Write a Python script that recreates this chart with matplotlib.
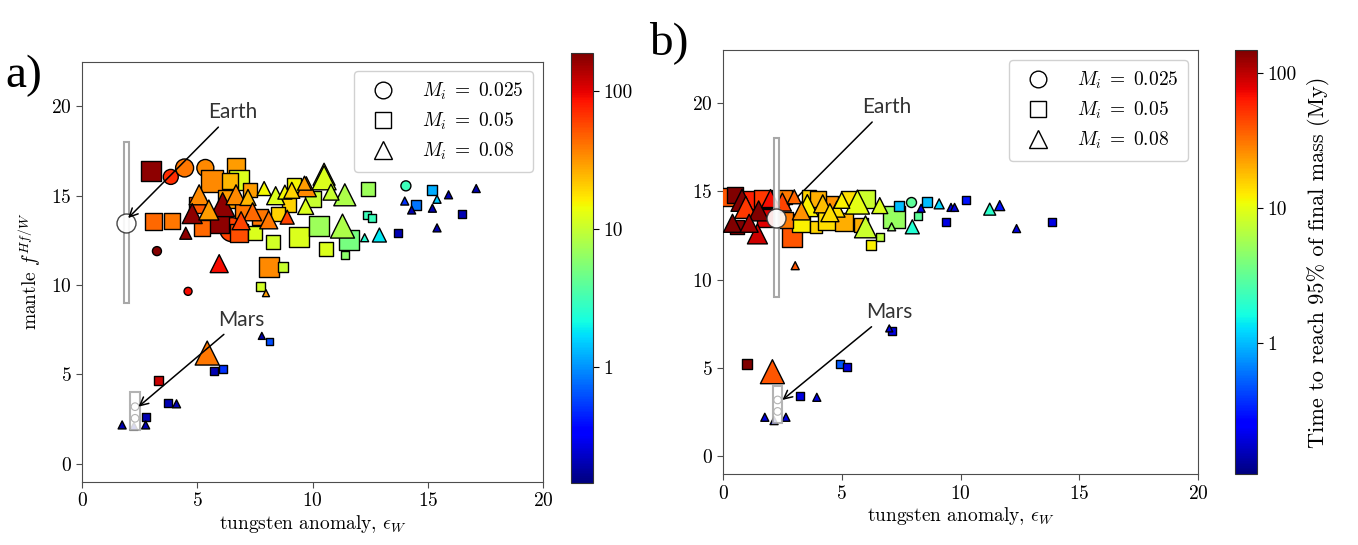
import matplotlib
matplotlib.use("Agg")
import matplotlib.pyplot as plt
from matplotlib.colors import LogNorm
from matplotlib.patches import Rectangle
from matplotlib.lines import Line2D
import matplotlib.ticker as mticker

plt.rcParams["font.family"] = "serif"
plt.rcParams["font.serif"] = ["cmr10"]
plt.rcParams["mathtext.fontset"] = "cm"
plt.rcParams["axes.formatter.use_mathtext"] = True

# ---------------- panel a) ----------------
# x: tungsten anomaly, y: mantle Hf/W, t: time to 95% mass (My), m: final mass (marker scale)
a_circ_x = [3.85, 4.45, 5.35, 6.5, 5.6, 3.25, 4.6, 14.05]
a_circ_y = [16.05, 16.55, 16.55, 13.1, 13.5, 11.9, 9.65, 15.55]
a_circ_t = [70, 40, 35, 60, 30, 180, 90, 3]
a_circ_m = [1.5, 1.8, 1.7, 2.4, 1.6, 0.9, 0.8, 1.0]

a_sq_x = [2.98, 3.12, 3.9, 5.65, 6.7, 6.8, 5.95, 5.2, 6.8, 7.3, 8.1, 8.7, 7.76, 8.27,
          9.43, 10.3, 7.7, 9.0, 10.0, 12.4, 12.35, 12.56, 11.6, 11.4, 13.7, 14.5,
          15.17, 16.5, 5.73, 6.13, 3.3, 3.75, 2.76, 8.13, 10.6, 9.2,
          6.3, 7.0, 5.0, 7.5, 8.5, 6.4]
a_sq_y = [16.4, 13.56, 13.56, 15.8, 16.6, 15.9, 13.5, 13.2, 12.9, 15.3, 11.0, 11.0, 9.9, 12.4,
          12.7, 13.3, 13.8, 14.5, 14.8, 15.4, 13.9, 13.75, 12.5, 11.7, 12.9, 14.5,
          15.3, 14.0, 5.17, 5.3, 4.66, 3.4, 2.65, 6.84, 12.0, 15.6,
          14.8, 14.2, 14.5, 12.9, 14.0, 15.8]
a_sq_t = [170, 45, 40, 35, 30, 12, 170, 45, 55, 30, 35, 10, 11, 11,
          12, 7, 40, 20, 10, 7, 3, 3, 5, 6, 0.2, 0.8,
          1.2, 0.2, 0.2, 0.5, 120, 0.2, 0.2, 0.6, 12, 15,
          30, 40, 50, 12, 20, 25]
a_sq_m = [2.0, 1.7, 1.6, 2.2, 1.8, 2.0, 2.0, 1.6, 1.8, 1.4, 2.0, 1.0, 0.9, 1.4,
          2.0, 2.0, 1.6, 1.4, 1.6, 1.4, 0.8, 0.8, 2.0, 0.8, 0.8, 1.0,
          1.0, 0.8, 0.8, 0.8, 0.9, 0.8, 0.8, 0.7, 1.4, 1.4,
          1.8, 1.6, 1.6, 1.4, 1.4, 1.6]

a_tri_x = [5.08, 4.78, 6.1, 4.5, 5.95, 7.98, 8.4, 9.73, 10.5, 8.1, 9.7, 9.65, 10.5, 11.4,
           11.3, 12.9, 12.26, 14.0, 15.4, 14.3, 15.2, 15.9, 17.1, 15.4, 5.43, 4.1,
           1.74, 2.76, 2.25, 7.8, 6.68, 7.2, 8.8, 7.4, 10.8,
           5.5, 6.9, 7.9, 9.1, 8.9]
a_tri_y = [15.05, 14.0, 14.5, 12.9, 11.2, 9.55, 15.0, 15.5, 16.2, 13.65, 14.4, 15.7, 16.0, 15.05,
           13.3, 12.8, 12.65, 14.7, 14.8, 14.2, 14.3, 15.05, 15.4, 13.2, 6.2, 3.36,
           2.18, 2.18, 2.1, 7.16, 15.05, 14.9, 15.2, 14.1, 15.2,
           14.2, 13.6, 15.4, 15.3, 13.8]
a_tri_t = [35, 170, 170, 170, 90, 30, 12, 35, 9, 40, 12, 30, 12, 8,
           8, 1.8, 2.5, 0.5, 1.5, 0.2, 0.2, 0.2, 0.2, 0.2, 40, 0.2,
           0.2, 0.2, 0.2, 0.2, 35, 25, 15, 45, 10,
           30, 60, 15, 20, 60]
a_tri_m = [2.0, 2.0, 2.4, 1.2, 1.8, 0.7, 1.8, 2.0, 2.2, 1.8, 1.6, 1.4, 2.4, 2.2,
           2.4, 1.4, 0.8, 0.8, 0.8, 0.8, 0.8, 0.8, 0.8, 0.8, 2.4, 0.8,
           0.8, 0.8, 0.8, 0.7, 2.0, 1.6, 1.4, 1.8, 1.6,
           2.0, 1.8, 1.4, 1.6, 1.4]

# ---------------- panel b) ----------------
b_circ_x = [7.92]
b_circ_y = [14.4]
b_circ_t = [3]
b_circ_m = [1.0]

b_sq_x = [0.25, 0.5, 0.6, 1.2, 1.7, 2.9, 3.28, 3.9, 4.4, 5.1, 6.0, 7.2, 6.23, 6.6,
          7.43, 8.6, 8.2, 9.37, 10.24, 13.86, 1.03, 3.25, 4.93, 5.2, 7.12,
          4.5, 2.6, 5.8, 3.6, 1.8, 2.6, 4.0, 5.3]
b_sq_y = [14.7, 14.8, 13.0, 14.5, 14.6, 12.4, 13.2, 13.0, 13.4, 13.3, 14.6, 13.55, 11.96, 12.4,
          14.2, 14.4, 13.6, 13.3, 14.5, 13.3, 5.24, 3.4, 5.24, 5.08, 7.1,
          14.3, 14.7, 13.1, 14.7, 13.5, 13.4, 14.6, 14.6]
b_sq_t = [40, 150, 150, 60, 50, 40, 12, 15, 14, 20, 8, 5, 12, 7,
          1.0, 1.0, 3, 0.2, 0.3, 0.2, 150, 0.2, 0.5, 0.2, 0.2,
          25, 30, 20, 15, 80, 30, 20, 14]
b_sq_m = [1.8, 1.6, 1.4, 1.8, 1.8, 2.0, 1.8, 1.2, 2.0, 1.8, 1.8, 2.2, 1.0, 0.8,
          1.0, 1.0, 0.8, 0.8, 0.8, 0.8, 1.0, 0.8, 0.8, 0.8, 0.8,
          1.6, 1.4, 1.4, 1.4, 1.8, 1.6, 1.6, 1.6]

b_tri_x = [0.8, 0.96, 1.5, 1.45, 0.4, 3.04, 3.55, 4.2, 4.8, 5.66, 6.0, 2.5, 3.0, 7.1,
           7.97, 9.1, 8.34, 9.6, 9.75, 11.23, 11.65, 12.36, 2.08, 3.95, 1.76, 2.15,
           2.65, 7.0, 5.0, 1.1, 2.0, 3.3, 4.5, 6.6]
b_tri_y = [14.5, 14.1, 13.9, 12.6, 13.2, 10.8, 14.2, 14.3, 14.0, 14.4, 13.0, 14.4, 14.7, 13.0,
           13.0, 14.3, 14.05, 14.1, 14.1, 14.0, 14.2, 12.9, 4.8, 3.35, 2.22, 2.03,
           2.22, 7.25, 14.5, 13.2, 14.6, 13.9, 13.8, 14.2]
b_tri_t = [170, 50, 170, 90, 170, 40, 12, 18, 14, 10, 8, 45, 35, 5,
           1.8, 1.2, 0.2, 0.2, 0.2, 2, 0.3, 0.2, 40, 0.2, 0.2, 0.2,
           0.2, 0.2, 12, 120, 70, 25, 14, 9]
b_tri_m = [2.2, 2.2, 2.0, 2.0, 1.8, 0.8, 2.2, 1.8, 1.6, 2.4, 2.2, 1.8, 1.4, 0.8,
           1.4, 1.0, 0.8, 0.8, 0.8, 1.2, 1.0, 0.8, 2.4, 0.8, 0.8, 0.8,
           0.8, 0.7, 1.6, 1.8, 1.8, 1.8, 1.8, 1.6]

legend_labels = [r"$M_i\;=\;0.025$", r"$M_i\;=\;0.05$", r"$M_i\;=\;0.08$"]
cbar_ticks = [1, 10, 100]

# reference values for the planets
earth_x, earth_y, earth_lo, earth_hi = 1.92, 13.5, 9.0, 18.0
mars_x, mars_y, mars_lo, mars_hi = 2.3, 3.0, 1.9, 4.0
earth_x_b = 2.25


def size_of(m):
    return [(v * 7.2) ** 2 for v in m]


def draw_panel(ax, cax, groups, norm, ex, arrow_z, earth_arrow, mars_arrow):
    cmap = plt.get_cmap("jet")
    sc = None
    for marker, xs, ys, ts, ms in groups:
        sc = ax.scatter(xs, ys, c=ts, s=size_of(ms), marker=marker, cmap=cmap, norm=norm,
                        edgecolors="black", linewidths=1.0, zorder=3)

    # Earth range and value
    ax.add_patch(Rectangle((ex - 0.12, earth_lo), 0.24, earth_hi - earth_lo,
                           facecolor="white", edgecolor="0.6", lw=1.5, alpha=0.85, zorder=4))
    ax.scatter([ex], [earth_y], s=(19 * 0.72) ** 2, facecolors="white",
               edgecolors="0.2", linewidths=1.0, alpha=0.9, zorder=5)
    # Mars range and value
    ax.add_patch(Rectangle((mars_x - 0.2, mars_lo), 0.4, mars_hi - mars_lo,
                           facecolor="white", edgecolor="0.65", lw=1.5, alpha=0.85, zorder=4))
    ax.scatter([mars_x, mars_x], [2.55, 3.2], s=30, facecolors="none",
               edgecolors="0.7", linewidths=0.8, zorder=5)

    ax.annotate("Earth", xy=earth_arrow[0], xytext=earth_arrow[1], ha="center", va="bottom",
                fontsize=15, family="Lato", color="0.2",
                arrowprops=dict(arrowstyle="->", color="black", lw=1.1,
                                shrinkA=2, shrinkB=0), zorder=arrow_z)
    ax.annotate("Mars", xy=mars_arrow[0], xytext=mars_arrow[1], ha="center", va="bottom",
                fontsize=15, family="Lato", color="0.2",
                arrowprops=dict(arrowstyle="->", color="black", lw=1.1,
                                shrinkA=2, shrinkB=0), zorder=6)

    ax.set_xlim(0, 20)
    ax.set_xticks([0, 5, 10, 15, 20])
    ax.set_yticks([0, 5, 10, 15, 20])
    ax.tick_params(labelsize=14, direction="out", length=4, color="0.3")
    for sp in ax.spines.values():
        sp.set_color("0.3")
    ax.set_xlabel(r"tungsten anomaly, $\epsilon_W$", fontsize=14, labelpad=2)

    handles = [Line2D([], [], ls="none", marker=mk, markersize=ms, markerfacecolor="white",
                      markeredgecolor="black", markeredgewidth=1.0)
               for mk, ms in zip(["o", "s", "^"], [12, 12, 13])]
    ax.legend(handles, legend_labels, loc="upper right", fontsize=14, handletextpad=1.0,
              borderpad=0.5, labelspacing=0.45, framealpha=0.9, edgecolor="0.8")

    cb = plt.colorbar(sc, cax=cax)
    cb.set_ticks(cbar_ticks)
    cb.ax.yaxis.set_major_formatter(mticker.FixedFormatter(["1", "10", "100"]))
    cb.ax.yaxis.set_minor_locator(mticker.NullLocator())
    cb.ax.tick_params(labelsize=14, length=4)
    cb.outline.set_edgecolor("0.2")
    return cb


fig = plt.figure(figsize=(13.58, 5.45), dpi=100)
ax_a = fig.add_axes([0.0604, 0.116, 0.3395, 0.771])
cax_a = fig.add_axes([0.4205, 0.114, 0.0162, 0.789])
ax_b = fig.add_axes([0.5324, 0.130, 0.3498, 0.778])
cax_b = fig.add_axes([0.9094, 0.130, 0.0160, 0.778])

groups_a = [("o", a_circ_x, a_circ_y, a_circ_t, a_circ_m),
            ("s", a_sq_x, a_sq_y, a_sq_t, a_sq_m),
            ("^", a_tri_x, a_tri_y, a_tri_t, a_tri_m)]
groups_b = [("o", b_circ_x, b_circ_y, b_circ_t, b_circ_m),
            ("s", b_sq_x, b_sq_y, b_sq_t, b_sq_m),
            ("^", b_tri_x, b_tri_y, b_tri_t, b_tri_m)]

draw_panel(ax_a, cax_a, groups_a, LogNorm(vmin=0.143, vmax=190), earth_x, 6,
           ((earth_x + 0.08, earth_y + 0.25), (6.55, 19.1)),
           ((mars_x + 0.15, 3.2), (6.9, 7.5)))
ax_a.set_ylim(-1, 22.5)
ax_a.set_ylabel(r"mantle $f^{Hf/W}$", fontsize=14, labelpad=6)

draw_panel(ax_b, cax_b, groups_b, LogNorm(vmin=0.107, vmax=147), earth_x_b, 2,
           ((earth_x_b, earth_y), (6.9, 19.2)),
           ((mars_x + 0.2, 3.2), (7.0, 7.6)))
ax_b.set_ylim(-1, 23)
cax_b.set_ylabel("Time to reach 95% of final mass (My)", fontsize=16, labelpad=8)

fig.text(0.004, 0.84, "a)", fontsize=34, family="Liberation Serif")
fig.text(0.478, 0.9, "b)", fontsize=34, family="Liberation Serif")

fig.savefig("out.png", dpi=100)
